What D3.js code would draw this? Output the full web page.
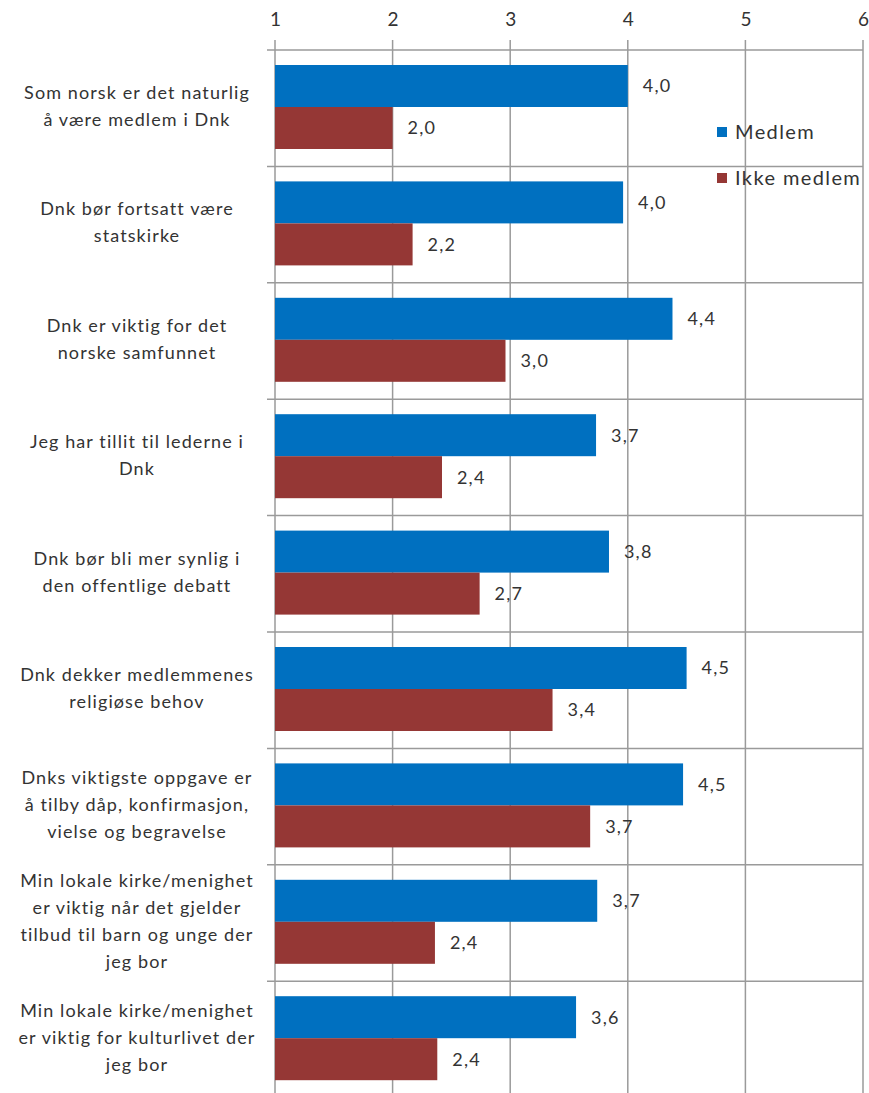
<!DOCTYPE html>
<html>
<head>
<meta charset="utf-8">
<script src="https://cdn.jsdelivr.net/npm/d3@7"></script>
<style>
  html, body { margin: 0; padding: 0; background: #fff; }
  svg { display: block; }
  text { font-family: Lato, "Open Sans", sans-serif; fill: #333; }
</style>
</head>
<body>
<svg id="chart" width="869" height="1093"></svg>
<script>
// ---- data ----
const categories = [
  ["Som norsk er det naturlig", "å være medlem i Dnk"],
  ["Dnk bør fortsatt være", "statskirke"],
  ["Dnk er viktig for det", "norske samfunnet"],
  ["Jeg har tillit til lederne i", "Dnk"],
  ["Dnk bør bli mer synlig i", "den offentlige debatt"],
  ["Dnk dekker medlemmenes", "religiøse behov"],
  ["Dnks viktigste oppgave er", "å tilby dåp, konfirmasjon,", "vielse og begravelse"],
  ["Min lokale kirke/menighet", "er viktig når det gjelder", "tilbud til barn og unge der", "jeg bor"],
  ["Min lokale kirke/menighet", "er viktig for kulturlivet der", "jeg bor"]
];
const seriesNames = ["Medlem", "Ikke medlem"];
const medlem = [4.0, 3.96, 4.38, 3.73, 3.84, 4.50, 4.47, 3.74, 3.56];
const ikkeMedlem = [2.0, 2.17, 2.96, 2.42, 2.74, 3.36, 3.68, 2.36, 2.38];
const tickValues = [1, 2, 3, 4, 5, 6];
const colors = ["#0070C0", "#953735"];

// ---- layout ----
const svg = d3.select("#chart");
const xLeft = 275, xRight = 863, plotTop = 50, band = 116.4;
const x = d3.scaleLinear().domain([1, 6]).range([xLeft, xRight]);
const idx = d3.range(categories.length);
const y = d3.scaleBand().domain(idx).range([plotTop, plotTop + band * categories.length]).padding(0);
const ySub = d3.scaleBand().domain([0, 1]).range([15, 99]).padding(0);
const fmt = v => d3.format(".1f")(v).replace(".", ",");

// vertical gridlines
svg.append("g").selectAll("line").data(tickValues).join("line")
  .attr("x1", d => x(d)).attr("x2", d => x(d))
  .attr("y1", plotTop - 10).attr("y2", 1093)
  .attr("stroke", "#9a9a9a").attr("stroke-width", 1.5);

// horizontal separators
const bounds = d3.range(categories.length + 1).map(i => plotTop + i * band);
svg.append("g").selectAll("line").data(bounds).join("line")
  .attr("x1", xLeft - 8).attr("x2", xRight)
  .attr("y1", d => d).attr("y2", d => d)
  .attr("stroke", "#9a9a9a").attr("stroke-width", 1.5);

// top axis labels
const axis = d3.axisTop(x).tickValues(tickValues).tickSize(0).tickPadding(0).tickFormat(d3.format("d"));
const ax = svg.append("g").attr("transform", `translate(0,26)`).call(axis);
ax.select(".domain").remove();
ax.selectAll("text").style("font-family", "Lato, 'Open Sans', sans-serif")
  .style("font-size", "19px").attr("fill", "#333").attr("dy", "0");

// bars
const series = [medlem, ikkeMedlem];
series.forEach((vals, s) => {
  const g = svg.append("g");
  g.selectAll("rect").data(vals).join("rect")
    .attr("x", x(1))
    .attr("y", (d, i) => y(i) + ySub(s))
    .attr("width", d => x(d) - x(1))
    .attr("height", ySub.bandwidth())
    .attr("fill", colors[s]);
  g.selectAll("text").data(vals).join("text")
    .attr("x", d => x(d) + 15)
    .attr("y", (d, i) => y(i) + ySub(s) + ySub.bandwidth() / 2)
    .attr("dy", "0.35em")
    .style("font-size", "18px")
    .style("letter-spacing", "1.2px")
    .text(d => fmt(d));
});

// category labels
const lh = 27;
const cat = svg.append("g").selectAll("text").data(categories).join("text")
  .attr("text-anchor", "middle")
  .style("font-size", "18px")
  .style("letter-spacing", "1.1px");
cat.each(function(lines, i) {
  const cy = y(i) + band / 2 - 2;
  const startY = cy - (lines.length - 1) * lh / 2;
  d3.select(this).selectAll("tspan").data(lines).join("tspan")
    .attr("x", 137)
    .attr("y", (d, j) => startY + j * lh)
    .attr("dy", "0.35em")
    .text(d => d);
});

// legend
const leg = svg.append("g");
seriesNames.forEach((name, s) => {
  const ly = 132 + s * 46;
  leg.append("rect").attr("x", 717).attr("y", ly - 5).attr("width", 10).attr("height", 10).attr("fill", colors[s]);
  leg.append("text").attr("x", 735).attr("y", ly).attr("dy", "0.35em")
    .style("font-size", "20px").style("letter-spacing", "1.4px").text(name);
});
</script>
</body>
</html>
